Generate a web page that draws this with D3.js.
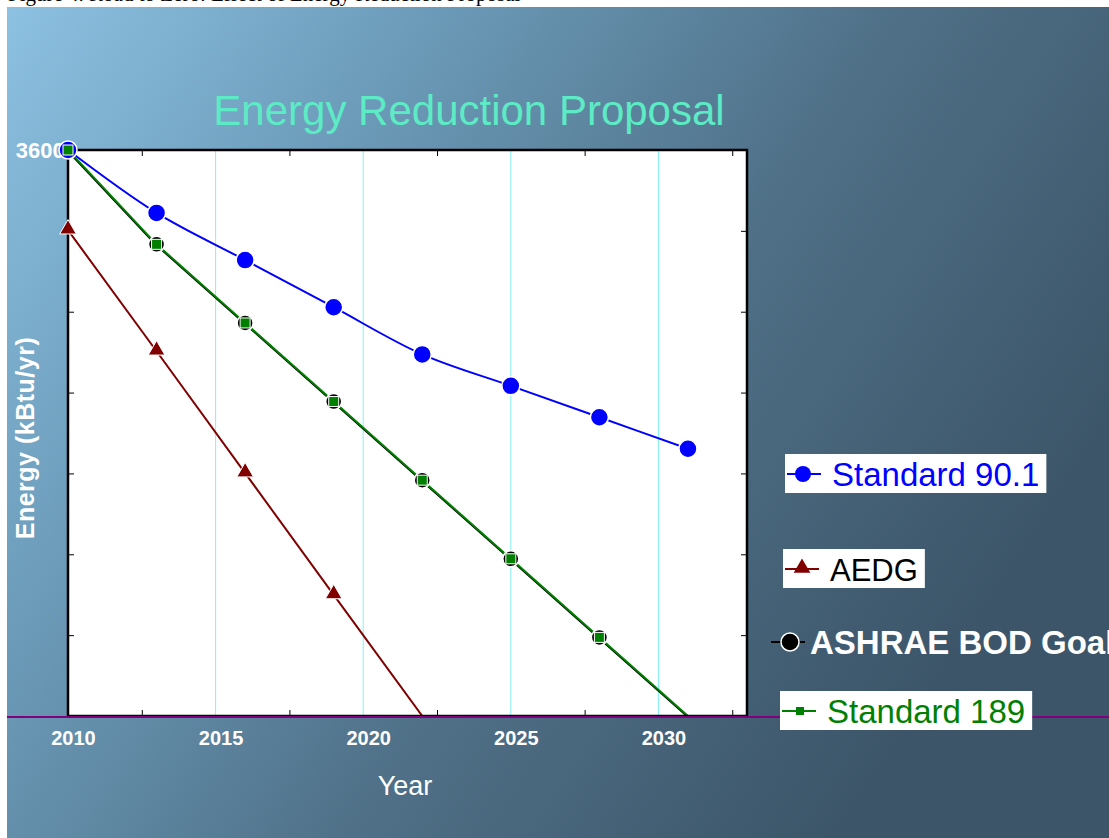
<!DOCTYPE html>
<html>
<head>
<meta charset="utf-8">
<script src="https://cdnjs.cloudflare.com/ajax/libs/d3/7.8.5/d3.min.js"></script>
<style>
  body { margin: 0; background: #fff; }
  svg { display: block; font-family: Arial, "Liberation Sans", sans-serif; }
</style>
</head>
<body>
<svg class="chart" width="1109" height="838"></svg>
<script>
// data
var years = [2010, 2013, 2016, 2019, 2022, 2025, 2028, 2031];
var std901 = [36000, 32000, 29000, 26000, 23000, 21000, 19000, 17000];
var aedg = [30900, 23200, 15450, 7700, 0, 0, 0, 0];
var ashrae = [36000, 30000, 25000, 20000, 15000, 10000, 5000, 0];
var std189 = [36000, 30000, 25000, 20000, 15000, 10000, 5000, 0];
var yearLabels = [2010, 2015, 2020, 2025, 2030];
var minorYears = [2012.5, 2017.5, 2022.5, 2027.5, 2032.5];
var yTicks = [36000 / 7, 72000 / 7, 108000 / 7, 144000 / 7, 180000 / 7, 216000 / 7];

var svg = d3.select(".chart"),
    margin = { top: 150, right: 362, bottom: 122, left: 68 },
    width = +svg.attr("width") - margin.left - margin.right,
    height = +svg.attr("height") - margin.top - margin.bottom;

var x = d3.scaleLinear().domain([2010, 2033]).range([0, width]),
    y = d3.scaleLinear().domain([0, 36000]).range([height, 0]);

// background
var defs = svg.append("defs");
var grad = defs.append("linearGradient")
    .attr("id", "bg")
    .attr("x1", 0).attr("y1", 0).attr("x2", 1).attr("y2", 0.5);
grad.append("stop").attr("offset", 0).attr("stop-color", "#8dc1e1");
grad.append("stop").attr("offset", 0.3).attr("stop-color", "#6c9cba");
grad.append("stop").attr("offset", 0.65).attr("stop-color", "#4f7087");
grad.append("stop").attr("offset", 1).attr("stop-color", "#3c5569");

svg.append("rect")
    .attr("x", 7).attr("y", 7)
    .attr("width", 1102).attr("height", 831)
    .attr("fill", "url(#bg)");

// caption, cut off at the top of the page like in the picture
svg.append("text")
    .attr("x", 8).attr("y", 1)
    .attr("font-family", "Liberation Serif, Times New Roman, serif")
    .attr("font-size", "21px")
    .attr("fill", "#000")
    .text("Figure 4. Road to Zero: Effect of Energy Reduction Proposal");

svg.append("text")
    .attr("x", 469).attr("y", 125)
    .attr("text-anchor", "middle")
    .attr("font-size", "42px")
    .attr("fill", "#5cebc4")
    .text("Energy Reduction Proposal");

var g = svg.append("g")
    .attr("transform", "translate(" + margin.left + "," + margin.top + ")");

g.append("rect")
    .attr("width", width).attr("height", height)
    .attr("fill", "#fff");

// cyan year grid
g.selectAll(".grid")
    .data(yearLabels.slice(1))
    .enter().append("line")
    .attr("x1", function(d) { return x(d); })
    .attr("x2", function(d) { return x(d); })
    .attr("y1", 0).attr("y2", height)
    .attr("stroke", "#7ff4f4").attr("stroke-width", 1);

// inner minor ticks, top & bottom
g.append("g")
    .attr("transform", "translate(0," + height + ")")
    .call(d3.axisBottom(x).tickValues(minorYears).tickSize(-6).tickFormat(""))
    .call(function(a) { a.select(".domain").remove(); });
g.append("g")
    .call(d3.axisTop(x).tickValues(minorYears).tickSize(-6).tickFormat(""))
    .call(function(a) { a.select(".domain").remove(); });
// y ticks on both sides
g.append("g")
    .call(d3.axisLeft(y).tickValues(yTicks).tickSize(-6).tickFormat(""))
    .call(function(a) { a.select(".domain").remove(); });
g.append("g")
    .attr("transform", "translate(" + width + ",0)")
    .call(d3.axisRight(y).tickValues(yTicks).tickSize(-6).tickFormat(""))
    .call(function(a) { a.select(".domain").remove(); });

// x labels
var xAxis = g.append("g")
    .attr("transform", "translate(0," + height + ")")
    .call(d3.axisBottom(x).tickValues(yearLabels).tickSize(0).tickPadding(15).tickFormat(d3.format("d")));
xAxis.select(".domain").remove();
xAxis.selectAll("text")
    .attr("fill", "#fff").attr("font-size", "20px").attr("font-weight", "bold")
    .attr("font-family", "Arial, Liberation Sans, sans-serif")
    .attr("dx", 5);

// top y label
var yAxis = g.append("g")
    .call(d3.axisLeft(y).tickValues([36000]).tickSize(0).tickPadding(-9).tickFormat(d3.format("d")));
yAxis.select(".domain").remove();
yAxis.selectAll("text")
    .attr("fill", "#fff").attr("font-size", "22px").attr("font-weight", "bold")
    .attr("font-family", "Arial, Liberation Sans, sans-serif");

svg.append("text")
    .attr("x", 405).attr("y", 795)
    .attr("text-anchor", "middle")
    .attr("fill", "#fff").attr("font-size", "27px")
    .text("Year");

svg.append("text")
    .attr("transform", "translate(34,438) rotate(-90)")
    .attr("text-anchor", "middle")
    .attr("fill", "#fff").attr("font-size", "25px").attr("font-weight", "bold")
    .attr("letter-spacing", "0.5px")
    .text("Energy  (kBtu/yr)");

var line = d3.line()
    .x(function(d, i) { return x(years[i]); })
    .y(function(d) { return y(d); });

// AEDG
g.append("path").datum(aedg)
    .attr("d", line).attr("fill", "none")
    .attr("stroke", "#800000").attr("stroke-width", 2);

// Standard 90.1 (smoothed)
g.append("path").datum(std901)
    .attr("d", line.curve(d3.curveCatmullRom.alpha(0.5)))
    .attr("fill", "none")
    .attr("stroke", "#0000ff").attr("stroke-width", 2);
line.curve(d3.curveLinear);

// ASHRAE goal and 189
g.append("path").datum(ashrae)
    .attr("d", line).attr("fill", "none")
    .attr("stroke", "#000").attr("stroke-width", 2)
    .attr("transform", "translate(-1,0)");
g.append("path").datum(std189)
    .attr("d", line).attr("fill", "none")
    .attr("stroke", "#008000").attr("stroke-width", 2);

// frame
g.append("rect")
    .attr("width", width).attr("height", height)
    .attr("fill", "none").attr("stroke", "#000").attr("stroke-width", 2.5);

svg.append("line")
    .attr("x1", 7).attr("x2", 1109)
    .attr("y1", margin.top + height + 1).attr("y2", margin.top + height + 1)
    .attr("stroke", "#800080").attr("stroke-width", 2);

// markers
var tri = d3.symbol().type(d3.symbolTriangle).size(120);

g.selectAll(".aedg")
    .data(aedg.filter(function(d) { return d > 0; }))
    .enter().append("path")
    .attr("d", tri)
    .attr("transform", function(d, i) { return "translate(" + x(years[i]) + "," + (y(d) - 1) + ")"; })
    .attr("fill", "#800000").attr("stroke", "#fff").attr("stroke-width", 1);

g.selectAll(".s901")
    .data(std901)
    .enter().append("circle")
    .attr("cx", function(d, i) { return x(years[i]); })
    .attr("cy", function(d) { return y(d); })
    .attr("r", 9)
    .attr("fill", "#0000ff").attr("stroke", "#fff").attr("stroke-width", 1.5);

g.selectAll(".ashrae")
    .data(ashrae.slice(1, -1))
    .enter().append("circle")
    .attr("cx", function(d, i) { return x(years[i + 1]); })
    .attr("cy", function(d) { return y(d); })
    .attr("r", 8)
    .attr("fill", "#000").attr("stroke", "#fff").attr("stroke-width", 1.5);

g.selectAll(".s189")
    .data(std189.slice(0, -1))
    .enter().append("rect")
    .attr("x", function(d, i) { return x(years[i]) - 5; })
    .attr("y", function(d) { return y(d) - 5; })
    .attr("width", 10).attr("height", 10)
    .attr("fill", "#008000").attr("stroke", "#fff").attr("stroke-width", 1);

// legend
var legend = [
  { name: "Standard 90.1", color: "#0000ff", text: "#0000ff", box: true, bold: false, lx: 787, ly: 474 },
  { name: "AEDG", color: "#800000", text: "#000", box: true, bold: false, lx: 785, ly: 569 },
  { name: "ASHRAE BOD Goal", color: "#000", text: "#fff", box: false, bold: true, lx: 771, ly: 642 },
  { name: "Standard 189", color: "#008000", text: "#008000", box: true, bold: false, lx: 782, ly: 711 }
];

legend.forEach(function(d, i) {
  var lg = svg.append("g").attr("transform", "translate(" + d.lx + "," + d.ly + ")");
  var bx = lg.append("rect");
  lg.append("line").attr("x1", 0).attr("x2", 34).attr("y1", 0).attr("y2", 0)
    .attr("stroke", d.color).attr("stroke-width", 2);
  if (i == 0) lg.append("circle").attr("cx", 16).attr("r", 8).attr("fill", d.color);
  if (i == 1) lg.append("path").attr("d", tri).attr("transform", "translate(17,-1)").attr("fill", d.color);
  if (i == 2) lg.append("circle").attr("cx", 19).attr("r", 9).attr("fill", "#000").attr("stroke", "#fff").attr("stroke-width", 1.5);
  if (i == 3) lg.append("rect").attr("x", 14).attr("y", -4).attr("width", 8).attr("height", 8).attr("fill", d.color);
  var t = lg.append("text")
    .attr("x", i == 2 ? 39 : 45).attr("y", 12)
    .attr("fill", d.text)
    .attr("font-size", d.bold ? "33px" : (i == 1 ? "31px" : "33px"))
    .attr("font-weight", d.bold ? "bold" : "normal")
    .text(d.name);
  if (d.box) {
    var w = t.node().getComputedTextLength();
    bx.attr("x", -2).attr("y", -20).attr("width", w + 54).attr("height", 39).attr("fill", "#fff");
  }
});
</script>
</body>
</html>
